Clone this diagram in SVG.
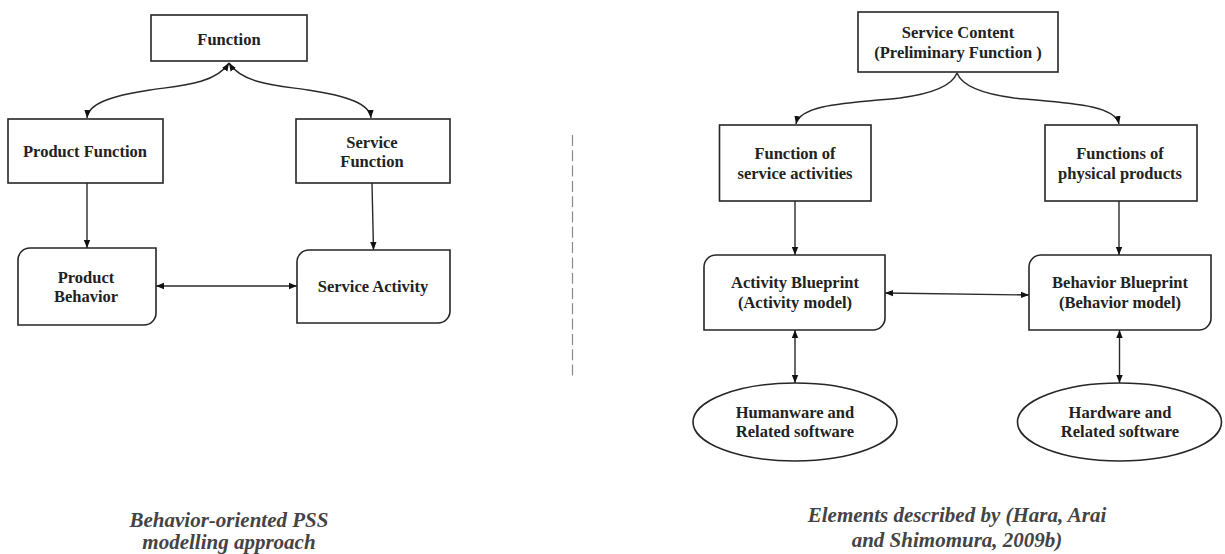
<svg xmlns="http://www.w3.org/2000/svg" width="1225" height="554" viewBox="0 0 1225 554">
<style>
.box{fill:#fff;stroke:#262626;stroke-width:1.6}
.t{font-family:"Liberation Serif","Times New Roman",serif;font-weight:bold;font-size:16.5px;fill:#222;text-anchor:middle}
.cap{font-family:"Liberation Serif","Times New Roman",serif;font-weight:bold;font-style:italic;font-size:21px;fill:#444;text-anchor:middle}
.c{fill:none;stroke:#2a2a2a;stroke-width:1.4}
.ar{marker-end:url(#ah)}
.bi{marker-start:url(#ah);marker-end:url(#ah)}
</style>
<defs>
<marker id="ah" viewBox="0 0 10 10" refX="10" refY="5" markerWidth="8" markerHeight="8" markerUnits="userSpaceOnUse" orient="auto-start-reverse">
<path d="M0,1 L10,5 L0,9 z" fill="#111"/>
</marker>
</defs>
<rect width="1225" height="554" fill="#fff"/>

<g id="connectors">
<path class="c bi" d="M229,63 C215,85 175,86 150,90 C110,96 88,104 87,118"/>
<path class="c bi" d="M229,63 C243,85 283,86 308,90 C348,96 370,104 371,118"/>
<path class="c ar" d="M87,183 L87,248"/>
<path class="c ar" d="M372,183 L373.5,250"/>
<path class="c bi" d="M156,286 L297,286"/>
<path class="c ar" d="M957,73 C952,86 930,94 900,98 C850,103 800,104 796,124"/>
<path class="c ar" d="M957,73 C962,86 984,94 1014,98 C1064,103 1115,104 1119,124"/>
<path class="c ar" d="M795,201 L795,255"/>
<path class="c ar" d="M1119,201 L1119,255"/>
<path class="c bi" d="M885,293 L1029,295"/>
<path class="c bi" d="M795,330 L795,383"/>
<path class="c bi" d="M1119.5,330 L1119.5,383"/>
<line x1="572.5" y1="135" x2="572.5" y2="377" stroke="#8a8a8a" stroke-width="1.2" stroke-dasharray="11 4.3"/>
</g>

<g id="function">
<rect class="box" x="151" y="15" width="156" height="46"/>
<text class="t" x="229" y="45">Function</text>
</g>
<g id="product-function">
<rect class="box" x="8" y="119" width="155" height="64"/>
<text class="t" x="85" y="157">Product Function</text>
</g>
<g id="service-function">
<rect class="box" x="296" y="119" width="154" height="64"/>
<text class="t" x="372" y="148">Service</text>
<text class="t" x="372" y="167">Function</text>
</g>
<g id="product-behavior">
<path class="box" d="M18,260 A12,12 0 0 1 30,248 H156 V313 A12,12 0 0 1 144,325 H18 Z"/>
<text class="t" x="86" y="283">Product</text>
<text class="t" x="86" y="302">Behavior</text>
</g>
<g id="service-activity">
<path class="box" d="M297,262 A12,12 0 0 1 309,250 H450 V311 A12,12 0 0 1 438,323 H297 Z"/>
<text class="t" x="373" y="292">Service Activity</text>
</g>

<g id="service-content">
<rect class="box" x="858" y="12" width="200" height="60"/>
<text class="t" x="958" y="38">Service Content</text>
<text class="t" x="958" y="58">(Preliminary Function )</text>
</g>
<g id="function-service-activities">
<rect class="box" x="719.5" y="125" width="151.5" height="76"/>
<text class="t" x="795" y="159">Function of</text>
<text class="t" x="795" y="179">service activities</text>
</g>
<g id="functions-physical-products">
<rect class="box" x="1045" y="125" width="152" height="76"/>
<text class="t" x="1120" y="159">Functions of</text>
<text class="t" x="1120" y="179">physical products</text>
</g>
<g id="activity-blueprint">
<path class="box" d="M704,267 A12,12 0 0 1 716,255 H885 V318 A12,12 0 0 1 873,330 H704 Z"/>
<text class="t" x="795" y="288">Activity Blueprint</text>
<text class="t" x="795" y="308">(Activity model)</text>
</g>
<g id="behavior-blueprint">
<path class="box" d="M1029,267 A12,12 0 0 1 1041,255 H1211 V318 A12,12 0 0 1 1199,330 H1029 Z"/>
<text class="t" x="1120" y="288">Behavior Blueprint</text>
<text class="t" x="1120" y="308">(Behavior model)</text>
</g>
<g id="humanware">
<ellipse class="box" cx="795" cy="422" rx="102" ry="39"/>
<text class="t" x="795" y="418">Humanware and</text>
<text class="t" x="795" y="437">Related software</text>
</g>
<g id="hardware">
<ellipse class="box" cx="1119.5" cy="422" rx="102" ry="39"/>
<text class="t" x="1120" y="418">Hardware and</text>
<text class="t" x="1120" y="437">Related software</text>
</g>

<g id="captions">
<text class="cap" x="229" y="527">Behavior-oriented PSS</text>
<text class="cap" x="229" y="549">modelling approach</text>
<text class="cap" x="957" y="522">Elements described by (Hara, Arai</text>
<text class="cap" x="957" y="547">and Shimomura, 2009b)</text>
</g>
</svg>
